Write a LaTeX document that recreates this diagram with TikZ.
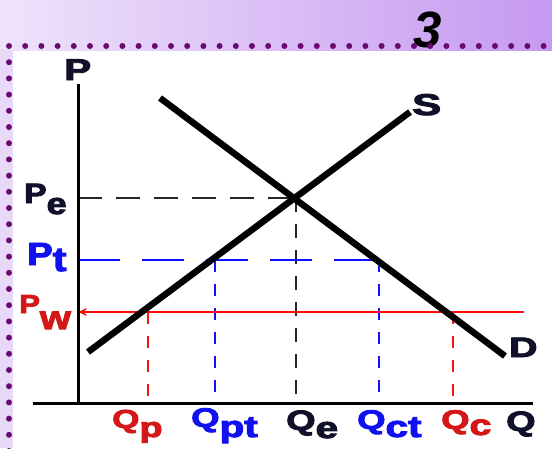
\documentclass[tikz,border=0pt]{standalone}
\usepackage{fontspec}
\setmainfont{Liberation Sans}
\newfontfamily\heavy{Liberation Sans}[BoldFeatures={FakeBold=3}]
\usetikzlibrary{arrows.meta}
\definecolor{dotc}{HTML}{6A0A6E}
\definecolor{bandL}{HTML}{EFE3FB}
\definecolor{bandR}{HTML}{C699F1}
\definecolor{stripc}{HTML}{E9D9F8}
\definecolor{lblk}{HTML}{10102A}
\definecolor{lblue}{HTML}{1010F0}
\definecolor{lred}{HTML}{D41818}
\definecolor{lnred}{HTML}{FF1010}
\definecolor{lnblue}{HTML}{1010FF}
% #1 xscale, #2 main size, #3 main text, #4 sub size, #5 lowering, #6 sub text
\newcommand\wlab[6]{\scalebox{#1}[1]{\heavy\bfseries\fontsize{#2}{#2}\selectfont #3\raisebox{-#5pt}{\fontsize{#4}{#4}\selectfont #6}}}
\tikzset{
  curve/.style={line width=6.5pt, line cap=butt, black},
  axis/.style={line width=3pt, black},
  lab/.style={inner sep=0pt, anchor=base west},
  hdashk/.style={line width=1.4pt, dash pattern=on 24pt off 14pt, black!85},
  hdashb/.style={line width=1.6pt, dash pattern=on 42pt off 22pt, lnblue},
  vdashk/.style={line width=1.6pt, dash pattern=on 14pt off 12pt, black!85},
  vdashb/.style={line width=1.6pt, dash pattern=on 12pt off 12pt, lnblue},
  vdashr/.style={line width=1.6pt, dash pattern=on 12pt off 12pt, lnred},
}
\begin{document}
\begin{tikzpicture}[x=1pt,y=-1pt]
\useasboundingbox (0,0) rectangle (552,448);
% background
\fill[white] (0,0) rectangle (552,448);
\shade[left color=bandL, right color=bandR] (0,0) rectangle (552,50);
\fill[stripc] (0,50) rectangle (13,448);
% title number
\node[font=\fontsize{51}{51}\selectfont\bfseries\itshape, inner sep=0pt] (num) at (428,30) {3};
% dotted border
\foreach \i in {0,...,33} \fill[dotc] (9+16.2*\i,46) circle (3);
\foreach \j in {1,...,25} \fill[dotc] (9,46+16.2*\j) circle (3);
% coordinates
\coordinate (O) at (78,403);
\coordinate (Ytop) at (78,84);
\coordinate (Xleft) at (33,403);
\coordinate (Xright) at (533,403);
\coordinate (S0) at (88,352);
\coordinate (S1) at (410,112);
\coordinate (D0) at (160,98);
\coordinate (D1) at (505,356);
\coordinate (E) at (296,198);
\coordinate (PeA) at (78,198);
\coordinate (QeA) at (296,403);
\coordinate (PtA) at (78,260);
\coordinate (PtQpt) at (215,260);
\coordinate (PtQct) at (379,260);
\coordinate (QptA) at (215,403);
\coordinate (QctA) at (379,403);
\coordinate (PwA) at (78,312);
\coordinate (PwEnd) at (524,312);
\coordinate (PwQp) at (148,312);
\coordinate (PwQc) at (453,312);
\coordinate (QpA) at (148,403);
\coordinate (QcA) at (453,403);
\coordinate (ArrT) at (106,312);
% guide lines
\draw[hdashk] (PeA) -- (E);
\draw[vdashk] (E) -- (QeA);
\draw[hdashb] (PtA) -- (PtQct);
\draw[vdashb] (PtQpt) -- (QptA);
\draw[vdashb] (PtQct) -- (QctA);
\draw[line width=1.4pt, lnred] (PwA) -- (PwEnd);
\draw[line width=1.6pt, lnred, -{Stealth[length=9pt,width=8pt]}] (ArrT) -- (PwA);
\draw[vdashr] (PwQp) -- (QpA);
\draw[vdashr] (PwQc) -- (QcA);
% curves
\draw[curve] (S0) -- (S1);
\draw[curve] (D0) -- (D1);
% axes
\draw[axis] (Ytop) -- (O |- Xleft);
\draw[axis] (Xleft) -- (Xright);
% labels
\node[lab, text=lblk] (P) at (64,80) {\wlab{1.35}{30}{P}{30}{0}{}};
\node[lab, text=lblk] (Sl) at (412,115) {\wlab{1.45}{30}{S}{30}{0}{}};
\node[lab, text=lblk] (Dl) at (509,357) {\wlab{1.4}{28}{D}{28}{0}{}};
\node[lab, text=lblk] (Pe) at (24,203) {\wlab{1.2}{28}{P}{30}{11}{e}};
\node[lab, text=lblue] (Pt) at (27,265) {\wlab{1.2}{32}{P}{34}{6}{t}};
\node[lab, text=lred] (Pw) at (19,313) {\wlab{1.2}{26}{P}{33}{16}{w}};
\node[lab, text=lred] (Qp) at (112,428) {\wlab{1.35}{26}{Q}{28}{9}{p}};
\node[lab, text=lblue] (Qpt) at (191,427) {\wlab{1.35}{27}{Q}{30}{10}{pt}};
\node[lab, text=lblk] (Qe) at (286,430) {\wlab{1.35}{28}{Q}{30}{8}{e}};
\node[lab, text=lblue] (Qct) at (357,429) {\wlab{1.35}{27}{Q}{30}{8}{ct}};
\node[lab, text=lred] (Qc) at (441,429) {\wlab{1.35}{27}{Q}{29}{6}{c}};
\node[lab, text=lblk] (Q) at (506,431) {\wlab{1.35}{28}{Q}{28}{0}{}};
\end{tikzpicture}
\end{document}
